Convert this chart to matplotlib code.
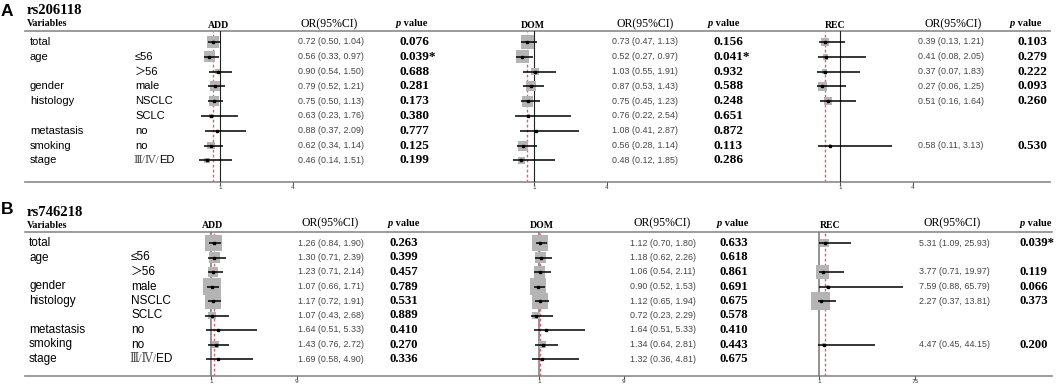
import numpy as np
import matplotlib.pyplot as plt

W, H = 1059, 384
SANS = ["Liberation Sans", "Noto Sans CJK SC", "DejaVu Sans"]
SERIF = ["Liberation Serif", "DejaVu Serif", "Noto Sans CJK SC"]
nan = np.nan

var_names = ["total", "age", "", "gender", "histology", "", "metastasis", "smoking", "stage"]
sub_names = ["", "≤56", "＞56", "male", "NSCLC", "SCLC", "no", "no", "Ⅲ/Ⅳ/ED"]
models = ["ADD", "DOM", "REC"]

# rs206118
a_add_or = [0.72, 0.56, 0.90, 0.79, 0.75, 0.63, 0.88, 0.62, 0.46]
a_add_lo = [0.50, 0.33, 0.54, 0.52, 0.50, 0.23, 0.37, 0.34, 0.14]
a_add_hi = [1.04, 0.97, 1.50, 1.21, 1.13, 1.76, 2.09, 1.14, 1.51]
a_add_p = ["0.076", "0.039*", "0.688", "0.281", "0.173", "0.380", "0.777", "0.125", "0.199"]
a_add_w = [11, 10, 5, 9, 9, 3, 1, 7, 5]

a_dom_or = [0.73, 0.52, 1.03, 0.87, 0.75, 0.76, 1.08, 0.56, 0.48]
a_dom_lo = [0.47, 0.27, 0.55, 0.53, 0.45, 0.22, 0.41, 0.28, 0.12]
a_dom_hi = [1.13, 0.97, 1.91, 1.43, 1.23, 2.54, 2.87, 1.14, 1.85]
a_dom_p = ["0.156", "0.041*", "0.932", "0.588", "0.248", "0.651", "0.872", "0.113", "0.286"]
a_dom_w = [12, 12, 7, 9, 10, 3, 1, 9, 6]

a_rec_or = [0.39, 0.41, 0.37, 0.27, 0.51, nan, nan, 0.58, nan]
a_rec_lo = [0.13, 0.08, 0.07, 0.06, 0.16, nan, nan, 0.11, nan]
a_rec_hi = [1.21, 2.05, 1.83, 1.25, 1.64, nan, nan, 3.13, nan]
a_rec_p = ["0.103", "0.279", "0.222", "0.093", "0.260", "", "", "0.530", ""]
a_rec_w = [7, 5, 5, 8, 7, 0, 0, 2, 0]

# rs746218
b_add_or = [1.26, 1.30, 1.23, 1.07, 1.17, 1.07, 1.64, 1.43, 1.69]
b_add_lo = [0.84, 0.71, 0.71, 0.66, 0.72, 0.43, 0.51, 0.76, 0.58]
b_add_hi = [1.90, 2.39, 2.14, 1.71, 1.91, 2.68, 5.33, 2.72, 4.90]
b_add_p = ["0.263", "0.399", "0.457", "0.789", "0.531", "0.889", "0.410", "0.270", "0.336"]
b_add_w = [15, 10, 9, 16, 14, 7, 2, 7, 2]

b_dom_or = [1.12, 1.18, 1.06, 0.90, 1.12, 0.72, 1.64, 1.34, 1.32]
b_dom_lo = [0.70, 0.62, 0.54, 0.52, 0.65, 0.23, 0.51, 0.64, 0.36]
b_dom_hi = [1.80, 2.26, 2.11, 1.53, 1.94, 2.29, 5.33, 2.81, 4.81]
b_dom_p = ["0.633", "0.618", "0.861", "0.691", "0.675", "0.578", "0.410", "0.443", "0.675"]
b_dom_w = [14, 10, 10, 15, 14, 7, 2, 6, 2]

b_rec_or = [5.31, nan, 3.77, 7.59, 2.27, nan, nan, 4.47, nan]
b_rec_lo = [1.09, nan, 0.71, 0.88, 0.37, nan, nan, 0.45, nan]
b_rec_hi = [25.93, nan, 19.97, 65.79, 13.81, nan, nan, 44.15, nan]
b_rec_p = ["0.039*", "", "0.119", "0.066", "0.373", "", "", "0.200", ""]
b_rec_w = [8, 0, 12, 3, 17, 0, 0, 2, 0]

fig = plt.figure(figsize=(W / 100, H / 100), dpi=100)
bg = fig.add_axes([0, 0, 1, 1])
bg.set_xlim(0, W)
bg.set_ylim(H, 0)
bg.axis("off")


def p_header(x, y, size):
    t = bg.text(x, y, "p", family=SERIF, fontstyle="italic", fontweight="bold",
                fontsize=size, va="center", ha="left")
    bg.annotate(" value", xy=(1, 0), xycoords=t, va="bottom", ha="left",
                family=SERIF, fontweight="bold", fontsize=size)


def forest(ya, yb, y0, dy, p1, k, ticks, odds, lo, hi, w, vcol, vlw):
    # one small axes per model, linear scale, 1 placed at pixel p1
    xa, xb = p1 - 45, p1 + 100
    ax = fig.add_axes([xa / W, 1 - yb / H, (xb - xa) / W, (yb - ya) / H])
    ax.patch.set_alpha(0)
    ax.set_xlim(1 + (xa - p1) / k, 1 + (xb - p1) / k)
    ax.set_ylim((yb - y0) / dy, (ya - y0) / dy)
    for s in ax.spines.values():
        s.set_visible(False)
    ax.set_yticks([])
    ax.set_xticks(ticks)
    ax.set_xticklabels([str(t) for t in ticks])
    ax.tick_params(axis="x", length=2.2, width=0.6, pad=0.3, labelsize=4.2,
                   colors="#333")
    odds, lo, hi, w = map(np.array, (odds, lo, hi, w))
    rows = np.arange(len(odds))
    ok = ~np.isnan(odds)
    ax.axvline(1, color=vcol, lw=vlw, zorder=1)
    ax.axvline(odds[0], color="#d9606e", lw=1.0, ls=(0, (2, 1.6)), zorder=1)
    ax.scatter(odds[ok], rows[ok], s=(w[ok] * 0.8) ** 2, marker="s",
               color="#b4b4b4", lw=0, zorder=2)
    ax.hlines(rows[ok], lo[ok], hi[ok], color="black", lw=1.1, zorder=3)
    ax.plot(odds[ok], rows[ok], "s", ms=1.7, color="black", zorder=4)


def panel(letter, snp, ly, sy, vy, ya, yb, y0, dy, var_x, sub_x, line_end,
          hy, vcol, vlw, psize, vsize, cols, data):
    bg.text(1, ly, letter, family=SANS, fontweight="bold", fontsize=12.5, va="center")
    bg.text(27, sy, snp, family=SERIF, fontweight="bold", fontsize=10.5, va="center")
    bg.text(27, vy, "Variables", family=SERIF, fontweight="bold", fontsize=7.2, va="center")
    bg.plot([25, line_end], [ya, ya], color="#8a8a8a", lw=1.2)
    bg.plot([25, line_end], [yb, yb], color="#8a8a8a", lw=1.2)
    for i in range(len(var_names)):
        y = y0 + i * dy
        bg.text(var_x, y, var_names[i], family=SANS, fontsize=vsize, va="center")
        lab = sub_names[i]
        if lab.startswith("Ⅲ"):
            t = bg.text(sub_x - 2, y, "Ⅲ/Ⅳ/", family=SERIF, fontsize=vsize,
                        color="#555", va="center")
            bg.annotate("ED", xy=(1, 0.5), xycoords=t, family=SANS,
                        fontsize=vsize, va="center", ha="left")
        else:
            bg.text(sub_x, y, lab, family=SANS, fontsize=vsize, va="center")
    for (name, p1, k, ticks, hx, orx_h, orx, px_h, px), (odds, lo, hi, pv, w) in zip(cols, data):
        bg.text(hx, hy[0], name, family=SERIF, fontweight="bold", fontsize=7,
                ha="center", va="center")
        bg.text(orx_h, hy[1], "OR(95%CI)", family=SERIF, fontsize=8.5,
                ha="center", va="center")
        p_header(px_h, hy[2], 7.5)
        for i in range(len(odds)):
            y = y0 + i * dy
            if not np.isnan(odds[i]):
                bg.text(orx, y, f"{odds[i]:.2f} ({lo[i]:.2f}, {hi[i]:.2f})",
                        family=SANS, fontsize=6.4, color="#444", va="center")
            if pv[i]:
                bg.text(px, y, pv[i], family=SERIF, fontweight="bold",
                        fontsize=psize, va="center")
        forest(ya, yb, y0, dy, p1, k, ticks, odds, lo, hi, w, vcol, vlw)


panel("A", "rs206118", 11, 11, 23, 31, 182, 42, 14.8, 30, 135, 1050,
      (25, 24, 23), "#222", 0.8, 9.5, 8,
      [("ADD", 220, 24.3, [1, 4], 219, 329, 298, 396, 399),
       ("DOM", 534, 24.3, [1, 4], 533, 645, 612, 708, 713),
       ("REC", 840, 24.3, [1, 4], 835, 953, 918, 1010, 1017)],
      [(a_add_or, a_add_lo, a_add_hi, a_add_p, a_add_w),
       (a_dom_or, a_dom_lo, a_dom_hi, a_dom_p, a_dom_w),
       (a_rec_or, a_rec_lo, a_rec_hi, a_rec_p, a_rec_w)])

panel("B", "rs746218", 209, 213, 225, 232, 376, 243, 14.5, 29, 131, 1052,
      (226, 223, 224), "#777", 1.1, 9.2, 8.5,
      [("ADD", 211, 10.72, [1, 9], 213, 330, 298, 388, 390),
       ("DOM", 539, 10.6, [1, 9], 542, 662, 630, 717, 719),
       ("REC", 819, 1.297, [1, 75], 830, 952, 919, 1020, 1020)],
      [(b_add_or, b_add_lo, b_add_hi, b_add_p, b_add_w),
       (b_dom_or, b_dom_lo, b_dom_hi, b_dom_p, b_dom_w),
       (b_rec_or, b_rec_lo, b_rec_hi, b_rec_p, b_rec_w)])

fig.savefig("out.png", dpi=100)
